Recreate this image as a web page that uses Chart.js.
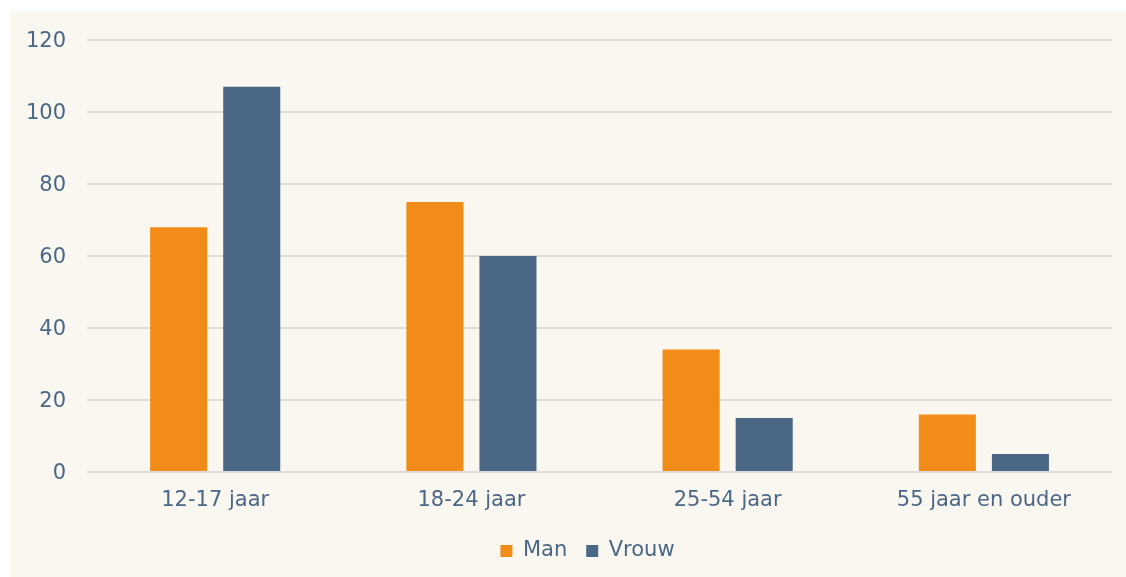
<!DOCTYPE html>
<html>
<head>
<meta charset="utf-8">
<script src="https://cdn.jsdelivr.net/npm/chart.js@4/dist/chart.umd.min.js"></script>
<style>
  html, body { margin: 0; padding: 0; background: #ffffff; }
  #box { position: absolute; left: 10px; top: 11px; width: 1116px; height: 566px; background: #faf7f1; }
  #c { position: absolute; left: 0; top: 0; display: block; }
</style>
</head>
<body>
<div id="box"></div>
<canvas id="c" width="1126" height="577"></canvas>
<script>
const categories = ["12-17 jaar", "18-24 jaar", "25-54 jaar", "55 jaar en ouder"];
const seriesNames = ["Man", "Vrouw"];
const manValues = [68, 75, 34, 16];
const vrouwValues = [107, 60, 15, 5];
const yTicks = [0, 20, 40, 60, 80, 100, 120];

const textColor = "#4a6785";
const fontFamily = "Verdana, 'DejaVu Sans', sans-serif";

const shiftLegend = {
  id: "shiftLegend",
  afterLayout(chart) {
    const lg = chart.legend;
    if (!lg) return;
    lg.left += 29; lg.right += 29;
    lg.top -= 7.7; lg.bottom -= 7.7;
  }
};

new Chart(document.getElementById("c"), {
  type: "bar",
  data: {
    labels: categories,
    datasets: [
      { label: seriesNames[0], data: manValues, backgroundColor: "#f08c17", borderWidth: 0,
        categoryPercentage: 0.5703, barPercentage: 0.7808 },
      { label: seriesNames[1], data: vrouwValues, backgroundColor: "#4a6885", borderWidth: 0,
        categoryPercentage: 0.5703, barPercentage: 0.7808 }
    ]
  },
  plugins: [shiftLegend],
  options: {
    responsive: false,
    animation: false,
    devicePixelRatio: 1,
    layout: { padding: { left: 5, right: 14, top: 40, bottom: -2.2 } },
    plugins: {
      tooltip: { enabled: false },
      legend: {
        position: "bottom",
        labels: {
          color: textColor,
          font: { family: fontFamily, size: 21 },
          boxWidth: 12, boxHeight: 12,
          padding: 19
        }
      }
    },
    scales: {
      x: {
        grid: { display: false, drawTicks: false },
        border: { display: false },
        ticks: { color: textColor, font: { family: fontFamily, size: 21 }, padding: 16 }
      },
      y: {
        min: 0, max: 120,
        afterBuildTicks: (axis) => { axis.ticks = yTicks.map(v => ({ value: v })); },
        grid: { color: "#dcdbd8", lineWidth: 2, drawTicks: false },
        border: { display: false },
        ticks: { color: textColor, font: { family: fontFamily, size: 21 }, padding: 21, labelOffset: 1.5 }
      }
    }
  }
});
</script>
</body>
</html>
